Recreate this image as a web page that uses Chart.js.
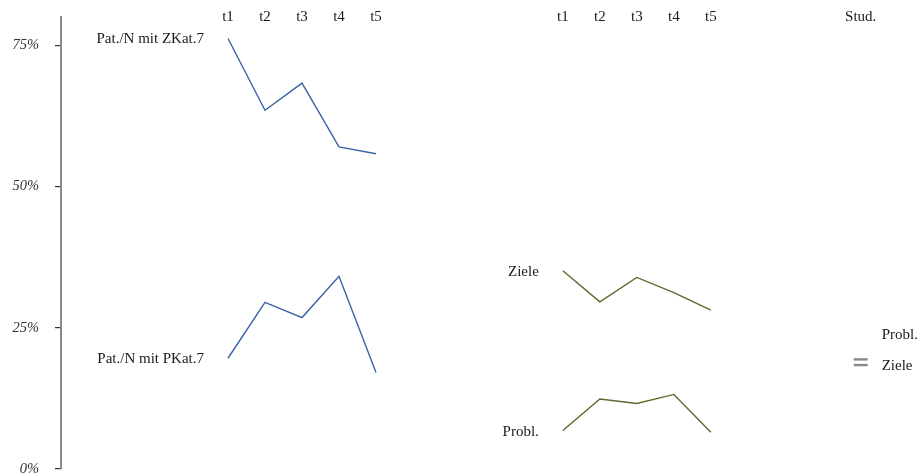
<!DOCTYPE html>
<html>
<head>
<meta charset="utf-8">
<script src="https://cdn.jsdelivr.net/npm/chart.js@4/dist/chart.umd.min.js"></script>
<style>
  html, body { margin: 0; padding: 0; background: #fff; overflow: hidden; }
  canvas { display: block; }
</style>
</head>
<body>
<canvas id="c" width="917" height="475"></canvas>
<script>
// Time points shown above each panel
const timepoints = ['t1', 't2', 't3', 't4', 't5'];

// Patients: share with category 7 (percent)
const zkatLabel = 'Pat./N mit ZKat.7';
const zkat = [76.2, 63.5, 68.3, 57.0, 55.8];
const pkatLabel = 'Pat./N mit PKat.7';
const pkat = [19.6, 29.5, 26.8, 34.1, 17.1];

// Second panel: goals and problems (percent)
const zieleLabel = 'Ziele';
const ziele = [35.1, 29.6, 33.9, 31.2, 28.1];
const problLabel = 'Probl.';
const probl = [6.8, 12.4, 11.6, 13.2, 6.5];

// Study reference values (percent)
const studLabel = 'Stud.';
const studProbl = 19.4;
const studZiele = 18.4;

// Y axis ticks (percent)
const yTicks = [0, 25, 50, 75];

// Panel layout along the x scale (one unit per time point)
const PANEL_A = 0, PANEL_B = 9.05, STUD_X = 17.1;

const FONT = '"Liberation Serif", "Times New Roman", serif';
const BLUE = '#3a64a3';
const OLIVE = '#5a6a2c';
const GREY = '#8a8a8a';
const TEXT = '#1a1a1a';

const toPts = (vals, off) => vals.map((v, i) => ({ x: off + i, y: v }));

const lineDs = (label, vals, off, color, side) => ({
  label, data: toPts(vals, off), borderColor: color, backgroundColor: color,
  borderWidth: 1.4, pointRadius: 0, tension: 0, fill: false, side
});

const datasets = [
  lineDs(zkatLabel, zkat, PANEL_A, BLUE, 'left'),
  lineDs(pkatLabel, pkat, PANEL_A, BLUE, 'left'),
  lineDs(zieleLabel, ziele, PANEL_B, OLIVE, 'left'),
  lineDs(problLabel, probl, PANEL_B, OLIVE, 'left'),
  { label: problLabel, data: [{ x: STUD_X, y: studProbl }], showLine: false,
    pointStyle: 'line', pointRadius: 7, borderColor: GREY, borderWidth: 2.4, side: 'right' },
  { label: zieleLabel, data: [{ x: STUD_X, y: studZiele }], showLine: false,
    pointStyle: 'line', pointRadius: 7, borderColor: GREY, borderWidth: 2.4, side: 'right' }
];

// Direct labels next to series plus panel headers
const annotate = {
  id: 'annotate',
  afterDatasetsDraw(chart) {
    const { ctx, scales: { x, y } } = chart;
    ctx.save();
    ctx.font = '15px ' + FONT;
    ctx.fillStyle = TEXT;
    ctx.textBaseline = 'middle';

    // headers
    ctx.textAlign = 'center';
    const headerY = 17;
    [PANEL_A, PANEL_B].forEach(off => {
      timepoints.forEach((t, i) => ctx.fillText(t, x.getPixelForValue(off + i), headerY));
    });
    ctx.fillText(studLabel, x.getPixelForValue(STUD_X), headerY);

    // left-side series labels
    ctx.textAlign = 'right';
    chart.data.datasets.forEach(ds => {
      if (ds.side !== 'left') return;
      const p = ds.data[0];
      ctx.fillText(ds.label, x.getPixelForValue(p.x) - 24, y.getPixelForValue(p.y) + 1);
    });

    // right-side labels for study marks, spread apart when crowded
    ctx.textAlign = 'left';
    const right = chart.data.datasets.filter(d => d.side === 'right')
      .map(d => ({ label: d.label, px: x.getPixelForValue(d.data[0].x), py: y.getPixelForValue(d.data[0].y) }))
      .sort((a, b) => b.py - a.py);
    let prev = Infinity;
    right.forEach(r => {
      const ty = Math.min(r.py + 1, prev - 31);
      prev = ty;
      ctx.fillText(r.label, r.px + 21, ty);
    });
    ctx.restore();
  }
};

const noPad = scale => {
  scale.paddingTop = 0; scale.paddingBottom = 0;
  scale.paddingLeft = 0; scale.paddingRight = 0;
};

new Chart(document.getElementById('c'), {
  type: 'line',
  data: { datasets },
  plugins: [annotate],
  options: {
    responsive: false,
    animation: false,
    events: [],
    layout: { autoPadding: false, padding: { top: 17, bottom: 6, left: 0, right: 0 } },
    plugins: { legend: { display: false }, tooltip: { enabled: false } },
    scales: {
      x: {
        type: 'linear', display: false,
        min: PANEL_A - 167 / 37, max: PANEL_A + 689 / 37,
        afterFit: noPad
      },
      y: {
        type: 'linear', min: 0, max: 80,
        afterFit(scale) { noPad(scale); scale.width = 61; },
        afterBuildTicks(scale) { scale.ticks = yTicks.map(v => ({ value: v })); },
        border: { display: true, color: GREY, width: 2 },
        grid: { drawOnChartArea: false, drawTicks: true, tickLength: 6, color: '#333', lineWidth: 1.2 },
        ticks: {
          padding: 16,
          color: '#333',
          font: { family: FONT, size: 14.5, style: 'italic' },
          callback: v => v + '%'
        }
      }
    }
  }
});
</script>
</body>
</html>
